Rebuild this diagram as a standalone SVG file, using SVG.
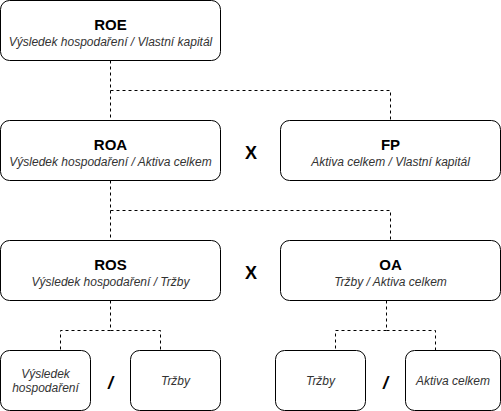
<svg xmlns="http://www.w3.org/2000/svg" width="501" height="411" viewBox="0 0 501 411">
<style>
.box{fill:#fff;stroke:#000;stroke-width:1}
.t{font-family:"Liberation Sans",Arial,sans-serif;font-size:15px;font-weight:bold;fill:#000;text-anchor:middle}
.s{font-family:"Liberation Sans",Arial,sans-serif;font-size:12px;font-style:italic;fill:#333;text-anchor:middle}
.op{font-family:"Liberation Sans",Arial,sans-serif;font-size:18px;font-weight:bold;fill:#000;text-anchor:middle}
.c{fill:none;stroke:#000;stroke-width:1;stroke-dasharray:3 3}
</style>
<rect width="501" height="411" fill="#fff"/>
<g id="connectors">
<path class="c" d="M110.5 60.5V120.5M110.5 90.5H390.5V120.5"/>
<path class="c" d="M110.5 180.5V240.5M110.5 210.5H390.5V240.5"/>
<path class="c" d="M110.5 300.5V330.5H60.5V350.5M110.5 330.5H160.5V350.5"/>
<path class="c" d="M386.5 300.5V330.5H335.5V350.5M386.5 330.5H435.5V350.5"/>
</g>
<g id="roe">
<rect class="box" x="0.5" y="0.5" width="220" height="60" rx="9"/>
<text class="t" x="110.5" y="30">ROE</text>
<text class="s" x="110.5" y="46">Výsledek hospodaření / Vlastní kapitál</text>
</g>
<g id="roa">
<rect class="box" x="0.5" y="120.5" width="220" height="60" rx="9"/>
<text class="t" x="110.5" y="150">ROA</text>
<text class="s" x="110.5" y="166">Výsledek hospodaření / Aktiva celkem</text>
</g>
<g id="fp">
<rect class="box" x="280.5" y="120.5" width="220" height="60" rx="9"/>
<text class="t" x="390.5" y="150">FP</text>
<text class="s" x="390.5" y="166">Aktiva celkem / Vlastní kapitál</text>
</g>
<g id="x1"><text class="op" x="251" y="159">X</text></g>
<g id="ros">
<rect class="box" x="0.5" y="240.5" width="220" height="60" rx="9"/>
<text class="t" x="110.5" y="270">ROS</text>
<text class="s" x="110.5" y="286">Výsledek hospodaření / Tržby</text>
</g>
<g id="oa">
<rect class="box" x="280.5" y="240.5" width="220" height="60" rx="9"/>
<text class="t" x="390.5" y="270">OA</text>
<text class="s" x="390.5" y="286">Tržby / Aktiva celkem</text>
</g>
<g id="x2"><text class="op" x="251" y="279">X</text></g>
<g id="vh">
<rect class="box" x="0.5" y="350.5" width="90" height="60" rx="9"/>
<text class="s" x="45.5" y="378">Výsledek</text>
<text class="s" x="45.5" y="392">hospodaření</text>
</g>
<g id="div1"><text class="op" x="110.5" y="389" font-style="italic">/</text></g>
<g id="trzby1">
<rect class="box" x="130.5" y="350.5" width="90" height="60" rx="9"/>
<text class="s" x="175.5" y="385">Tržby</text>
</g>
<g id="trzby2">
<rect class="box" x="275.5" y="350.5" width="90" height="60" rx="9"/>
<text class="s" x="320.5" y="385">Tržby</text>
</g>
<g id="div2"><text class="op" x="385.5" y="389" font-style="italic">/</text></g>
<g id="ac">
<rect class="box" x="405.5" y="350.5" width="95" height="60" rx="9"/>
<text class="s" x="453" y="385">Aktiva celkem</text>
</g>
</svg>
